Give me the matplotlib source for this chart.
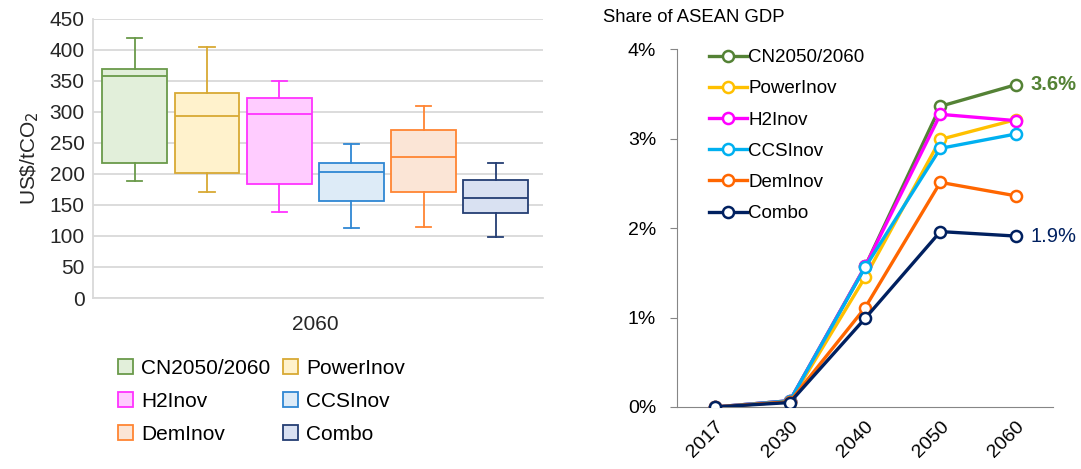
import matplotlib.pyplot as plt
from matplotlib.patches import Patch

plt.rcParams['font.family'] = ['Liberation Sans', 'DejaVu Sans']

# carbon price spread in 2060 per scenario (US$/tCO2)
scenarios = ["CN2050/2060", "PowerInov", "H2Inov", "CCSInov", "DemInov", "Combo"]
whis_hi = [420, 404, 350, 248, 310, 218]
q3 = [370, 330, 323, 218, 271, 190]
median = [358, 294, 297, 203, 228, 162]
q1 = [218, 202, 184, 156, 171, 137]
whis_lo = [188, 171, 138, 113, 115, 98]

box_edge = ["#6A9A4A", "#D8A934", "#FF33FF", "#2F87D3", "#FF8533", "#243E73"]
box_fill = ["#E2EFDA", "#FFF2CC", "#FFCCFF", "#DDEBF7", "#FBE5D6", "#D9E1F2"]

# carbon cost as share of ASEAN GDP (%)
years = ["2017", "2030", "2040", "2050", "2060"]
share = {
    "CN2050/2060": [0.0, 0.07, 1.57, 3.36, 3.60],
    "PowerInov":   [0.0, 0.06, 1.45, 2.99, 3.21],
    "H2Inov":      [0.0, 0.07, 1.57, 3.27, 3.20],
    "CCSInov":     [0.0, 0.07, 1.56, 2.89, 3.05],
    "DemInov":     [0.0, 0.06, 1.11, 2.51, 2.36],
    "Combo":       [0.0, 0.05, 0.99, 1.96, 1.91],
}
line_colors = ["#548235", "#FFC000", "#FF00FF", "#00B0F0", "#FF6600", "#002060"]

fig = plt.figure(figsize=(10.81, 4.69), dpi=100)

# --- box plot ---
ax1 = fig.add_axes([0.086, 0.3646, 0.416, 0.595])
stats = []
for i, name in enumerate(scenarios):
    stats.append(dict(label=name, med=median[i], q1=q1[i], q3=q3[i],
                      whislo=whis_lo[i], whishi=whis_hi[i], fliers=[]))
pos = list(range(len(scenarios)))
for i, st in enumerate(stats):
    ec = box_edge[i]
    ax1.bxp([st], positions=[pos[i]], widths=0.9, capwidths=0.21,
            patch_artist=True, showfliers=False, zorder=3,
            boxprops=dict(facecolor=box_fill[i], edgecolor=ec, linewidth=1.3),
            medianprops=dict(color=ec, linewidth=1.3),
            whiskerprops=dict(color=ec, linewidth=1.3),
            capprops=dict(color=ec, linewidth=1.3))
ax1.set_xlim(-0.58, 5.65)
ax1.set_ylim(0, 450)
ax1.set_yticks(range(0, 451, 50))
ax1.set_xticks([2.5])
ax1.set_xticklabels(["2060"])
ax1.yaxis.grid(True, color="#D9D9D9", linewidth=1.3, zorder=0)
ax1.set_axisbelow(True)
for s in ["top", "right"]:
    ax1.spines[s].set_visible(False)
for s in ["left", "bottom"]:
    ax1.spines[s].set_color("#D9D9D9")
    ax1.spines[s].set_linewidth(1.3)
ax1.tick_params(axis="both", length=0, labelsize=15, colors="#262626", pad=6)
ax1.tick_params(axis="x", pad=12)
ax1.set_ylabel(r"US\$/tCO$_2$", fontsize=15, color="#262626", labelpad=6)

# legend filled row by row: two columns
order = [0, 2, 4, 1, 3, 5]
handles = [Patch(facecolor=box_fill[i], edgecolor=box_edge[i], linewidth=1.3)
           for i in order]
fig.legend(handles, [scenarios[i] for i in order], ncol=2, loc="upper left",
           bbox_to_anchor=(0.1094, 0.235), frameon=False, fontsize=15,
           handlelength=0.7, handleheight=0.7, handletextpad=0.4,
           columnspacing=0.6, labelspacing=0.67, borderaxespad=0,
           borderpad=0)

# --- share of GDP lines ---
ax2 = fig.add_axes([0.6263, 0.1322, 0.348, 0.7633])
x = list(range(len(years)))
for name, c in zip(scenarios, line_colors):
    ax2.plot(x, share[name], color=c, linewidth=2.4, marker="o",
             markersize=8, markerfacecolor="white", markeredgecolor=c,
             markeredgewidth=1.8, label=name, zorder=3)
ax2.set_xlim(-0.5, 4.5)
ax2.set_ylim(0, 4)
ax2.set_yticks([0, 1, 2, 3, 4])
ax2.set_yticklabels([f"{v}%" for v in range(5)])
ax2.set_xticks(x)
ax2.set_xticklabels(years, rotation=45, ha="right", rotation_mode="anchor")
for s in ["top", "right"]:
    ax2.spines[s].set_visible(False)
for s in ["left", "bottom"]:
    ax2.spines[s].set_color("#868686")
ax2.tick_params(axis="y", length=5, color="#868686", labelsize=14, pad=10)
ax2.tick_params(axis="x", length=0, labelsize=14, pad=8)
fig.text(603 / 1081, 1 - 17 / 469, "Share of ASEAN GDP", fontsize=13.3,
         ha="left", va="center")

end_cn = share["CN2050/2060"][-1]
end_combo = share["Combo"][-1]
ax2.annotate(f"{end_cn:.1f}%", (x[-1], end_cn), xytext=(11, 0),
             textcoords="offset points", va="center", fontsize=14.5,
             color="#548235", fontweight="bold")
ax2.annotate(f"{end_combo:.1f}%", (x[-1], end_combo), xytext=(11, 0),
             textcoords="offset points", va="center", fontsize=14.5,
             color="#002060")

ax2.legend(loc="upper left", bbox_to_anchor=(0.085, 1.0), frameon=False,
           fontsize=13.5, handlelength=2.0, handletextpad=0.1,
           labelspacing=0.75, borderaxespad=0, borderpad=0)

fig.savefig("out.png", dpi=100)
